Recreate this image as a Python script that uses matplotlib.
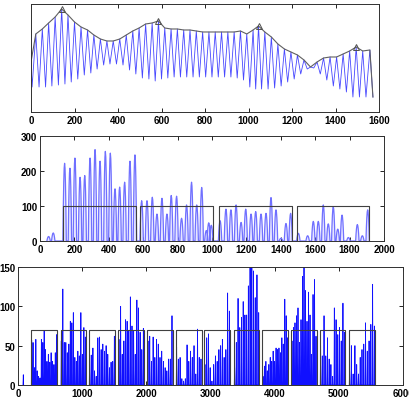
import numpy as np
import matplotlib
matplotlib.use("Agg")
import matplotlib.pyplot as plt

plt.rcParams['font.family'] = ['Liberation Sans', 'DejaVu Sans']
plt.rcParams['font.size'] = 7
plt.rcParams['font.weight'] = 'bold'

# top panel: oscillating signal (peaks / troughs) and its upper envelope
start_x, start_y = 0, 50
peak_x = [22, 52, 81, 111, 141, 170, 200, 230, 260, 289,
          319, 349, 378, 408, 438, 468, 497, 527, 557, 586,
          615, 644, 673, 702, 731, 760, 789, 818, 847, 876,
          905, 934, 963, 992, 1021, 1046,
          1075, 1105, 1135, 1165, 1195, 1225, 1255, 1285, 1315, 1345,
          1375, 1405, 1435, 1465, 1495, 1525, 1558]
peak_y = [78, 83, 89, 95, 103, 97, 90, 85, 82, 77,
          73, 71, 71, 73, 77, 81, 84, 88, 89, 91,
          84, 83, 83, 82, 82, 81, 80, 80, 80, 80,
          80, 80, 81, 78, 82, 86,
          80, 75, 68, 63, 60, 57, 52, 45, 50, 54,
          55, 55, 58, 61, 65, 61, 62]
trough_x = [5, 37, 67, 96, 126, 156, 185, 215, 245, 275,
            304, 334, 363, 393, 423, 453, 482, 512, 542, 571,
            600, 629, 658, 687, 716, 745, 774, 803, 832, 861,
            890, 919, 948, 977, 1006, 1033, 1060, 1090, 1120, 1150,
            1180, 1210, 1240, 1270, 1300, 1330, 1360, 1390, 1420, 1450,
            1480, 1510, 1540, 1572]
trough_y = [25, 25, 25, 26, 27, 28, 30, 33, 37, 39,
            43, 47, 48, 48, 47, 42, 38, 34, 33, 31,
            33, 34, 35, 35, 35, 35, 35, 35, 35, 35,
            35, 35, 34, 32, 25, 23, 23, 23, 24, 26,
            30, 33, 38, 43, 44, 38, 32, 26, 23, 20,
            15, 15, 15, 15]
marked = [4, 19, 35, 50]

# middle panel: peaks and segment boxes
mid_x = [50, 77, 143, 174, 203, 233, 260, 291, 320, 349, 380, 409, 436, 463, 492, 523, 552,
         591, 622, 653, 680, 709, 738, 763, 794, 823, 852, 881, 911, 940, 967, 981, 996,
         1047, 1081, 1110, 1140, 1169, 1196, 1227, 1254, 1285, 1314, 1343, 1372, 1401, 1430, 1457,
         1502, 1556, 1589, 1618, 1647, 1676, 1705, 1731, 1756, 1793, 1845, 1874, 1905]
mid_y = [13, 23, 222, 208, 237, 182, 187, 237, 261, 228, 256, 251, 149, 154, 168, 228, 246,
         115, 115, 125, 77, 122, 77, 130, 128, 65, 103, 168, 103, 153, 30, 52, 45,
         58, 91, 89, 103, 53, 91, 77, 84, 77, 79, 124, 89, 8, 50, 79,
         22, 15, 56, 56, 103, 49, 98, 34, 74, 10, 47, 15, 89]
mid_boxes = [(136, 558), (581, 1004), (1041, 1465), (1492, 1913)]
mid_box_h = 100

# bottom panel: spikes inside each segment box
bot_boxes = [(203, 613), (665, 1060), (1106, 1512), (1564, 1964), (2016, 2410), (2462, 2862),
             (2904, 3304), (3366, 3761), (3808, 4213), (4260, 4655), (4706, 5101), (5158, 5564)]
bot_heights = [
    [57, 54, 22, 58, 18, 11, 9, 58, 54, 69, 45, 30, 39, 29, 41, 30, 26, 41, 64],
    [56, 122, 54, 54, 41, 52, 81, 79, 92, 35, 30, 43, 37, 92, 39, 73, 61],
    [30, 38, 47, 18, 11, 60, 61, 45, 52, 43, 50, 39, 22, 29, 30, 62],
    [58, 100, 39, 56, 83, 81, 69, 112, 75, 69, 39, 108, 98, 67, 45, 72],
    [56, 62, 30, 61, 35, 58, 52, 35, 43, 30, 22, 18, 33, 33, 88],
    [48, 33, 35, 8, 5, 8, 51, 30, 43, 35, 50, 14, 71, 35, 33],
    [26, 60, 65, 22, 5, 26, 37, 30, 45, 50, 58, 35, 45, 117, 94],
    [22, 54, 110, 73, 86, 106, 89, 89, 126, 158, 160, 145, 111, 140, 92],
    [11, 24, 30, 18, 26, 35, 30, 43, 30, 47, 45, 47, 41, 60, 52, 109, 88, 60],
    [56, 73, 79, 88, 98, 54, 83, 138, 150, 120, 81, 118, 89, 39, 115, 134, 62],
    [50, 37, 88, 37, 60, 33, 26, 11, 98, 83, 64, 73, 56, 104, 67],
    [18, 50, 14, 50, 26, 14, 35, 45, 52, 79, 43, 56, 77, 128, 75],
]
bot_box_h = 70
lone_x, lone_y = [83], [13]

# rounded hump used to draw each peak of the middle panel
HUMP_DX = np.array([-1, -0.75, -0.5, -0.25, 0, 0.25, 0.5, 0.75, 1])
HUMP_DY = 1 - HUMP_DX ** 2


def style(ax):
    ax.tick_params(direction='in', length=3, width=0.6, top=True, right=True,
                   labelsize=7, pad=2)
    for s in ax.spines.values():
        s.set_color('#303030')
        s.set_linewidth(0.7)


def spikes(xs, hs, w, dx=np.array([-1, 0, 1]), dy=np.array([0, 1, 0])):
    px, py = [], []
    for x, h in zip(xs, hs):
        px += list(x + w * dx)
        py += list(h * dy)
    return px, py


fig = plt.figure(figsize=(4.09, 4.02), dpi=100)

# top
ax1 = fig.add_axes([0.0758, 0.7189, 0.8509, 0.2687])
sx, sy = [start_x], [start_y]
for tx, ty, px, py in zip(trough_x, trough_y, peak_x, peak_y):
    sx += [tx, px]
    sy += [ty, py]
sx.append(trough_x[-1])
sy.append(trough_y[-1])
ax1.plot(sx, sy, color='#4848ff', lw=0.6)
ex = [start_x] + peak_x + [trough_x[-1]]
ey = [start_y] + peak_y + [trough_y[-1]]
ax1.plot(ex, ey, color='#606060', lw=0.8)
ax1.plot([peak_x[i] for i in marked], [peak_y[i] for i in marked], '^',
         ms=5, mfc='none', mec='#505050', mew=0.7)
ax1.set_xlim(0, 1600)
ax1.set_ylim(0, 108)
ax1.set_xticks(np.arange(0, 1601, 200))
ax1.set_yticks([])
style(ax1)

# middle
ax2 = fig.add_axes([0.0978, 0.398, 0.8411, 0.2612])
mx, my = spikes(mid_x, mid_y, 10, HUMP_DX, HUMP_DY)
ax2.fill(mx, my, color='#e6e6ff', lw=0)
ax2.plot(mx, my, color='#7070ff', lw=0.9)
for a, b in mid_boxes:
    ax2.plot([a, a, b, b], [0, mid_box_h, mid_box_h, 0], color='#404040', lw=0.8)
ax2.set_xlim(0, 2000)
ax2.set_ylim(0, 300)
ax2.set_xticks(np.arange(0, 2001, 200))
ax2.set_yticks([0, 100, 200, 300])
style(ax2)

# bottom
ax3 = fig.add_axes([0.0440, 0.0398, 0.9413, 0.2935])
bx, by = spikes(lone_x, lone_y, 5)
ax3.plot(bx, by, color='#0000ff', lw=0.6)
for (a, b), hs in zip(bot_boxes, bot_heights):
    xs = np.linspace(a + 10, b - 10, len(hs))
    px, py = spikes(xs, hs, 5)
    ax3.plot(px, py, color='#1010ff', lw=0.6)
for a, b in bot_boxes:
    ax3.plot([a, a, b, b], [0, bot_box_h, bot_box_h, 0], color='#404040', lw=0.8)
ax3.set_xlim(0, 6000)
ax3.set_ylim(0, 150)
ax3.set_xticks(np.arange(0, 6001, 1000))
ax3.set_yticks([0, 50, 100, 150])
style(ax3)

fig.savefig('out.png', dpi=100)
